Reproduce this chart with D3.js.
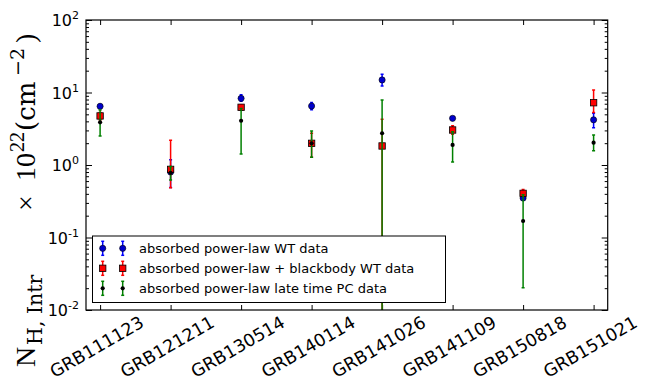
<!DOCTYPE html>
<html><head><meta charset="utf-8">
<script src="https://cdn.jsdelivr.net/npm/d3@7"></script>
<style>body{margin:0;background:#fff}svg{display:block}</style>
</head><body><svg id="c" width="649" height="382"></svg>
<script>
const categories = ["GRB111123","GRB121211","GRB130514","GRB140114","GRB141026","GRB141109","GRB150818","GRB151021"];
// absorbed power-law WT data (value, lower bound, upper bound)
const wtPL    = [6.45, 0.80, 8.3, 6.5, 14.9, 4.4, 0.35, 4.2];
const wtPLLo  = [6.0, 0.49, 7.6, 5.8, 12.3, 4.2, 0.33, 3.27];
const wtPLHi  = [6.9, 1.18, 9.3, 7.3, 17.8, 4.6, 0.37, 5.17];
// absorbed power-law + blackbody WT data
const wtBB    = [4.75, 0.87, 6.25, 1.99, 1.83, 3.04, 0.406, 7.23];
const wtBBLo  = [4.2, 0.486, 5.7, 1.28, 0.001, 2.65, 0.37, 5.3];
const wtBBHi  = [5.3, 2.19, 6.8, 2.74, 4.27, 3.48, 0.46, 10.8];
// absorbed power-law late time PC data
const pcPL    = [3.88, 0.78, 4.08, 1.99, 2.74, 1.89, 0.169, 2.03];
const pcPLLo  = [2.51, 0.62, 1.42, 1.28, 0.001, 1.10, 0.0203, 1.57];
const pcPLHi  = [5.74, 0.95, 6.0, 2.95, 7.88, 2.88, 0.39, 2.59];
const yTicks  = [0.01, 0.1, 1, 10, 100];
const yTickExp = ["-2","-1","0","1","2"];
const legendLabels = ["absorbed power-law WT data","absorbed power-law + blackbody WT data","absorbed power-law late time PC data"];

const svg = d3.select("#c");
const L=86, R=607.7, T=20, B=310;
const x = d3.scaleLinear().domain([-0.2, categories.length-1+0.2]).range([L,R]);
const y = d3.scaleLog().domain([0.01,100]).range([B,T]);

svg.append("defs").append("clipPath").attr("id","clip")
  .append("rect").attr("x",L).attr("y",T).attr("width",R-L).attr("height",B-T);

const minors=[];
for(let e=-2;e<2;e++) for(let k=2;k<=9;k++) minors.push(k*Math.pow(10,e));
svg.append("g").attr("transform",`translate(${L},0)`).call(d3.axisLeft(y).tickValues(yTicks).tickSizeInner(-6).tickSizeOuter(0).tickFormat(""));
svg.append("g").attr("transform",`translate(${R},0)`).call(d3.axisRight(y).tickValues(yTicks).tickSizeInner(-6).tickSizeOuter(0).tickFormat(""));
svg.append("g").attr("transform",`translate(${L},0)`).call(d3.axisLeft(y).tickValues(minors).tickSizeInner(-3).tickSizeOuter(0).tickFormat(""));
svg.append("g").attr("transform",`translate(${R},0)`).call(d3.axisRight(y).tickValues(minors).tickSizeInner(-3).tickSizeOuter(0).tickFormat(""));
const idx = d3.range(categories.length);
svg.append("g").attr("transform",`translate(0,${B})`).call(d3.axisBottom(x).tickValues(idx).tickSizeInner(-5).tickSizeOuter(0).tickFormat(""));
svg.append("g").attr("transform",`translate(0,${T})`).call(d3.axisTop(x).tickValues(idx).tickSizeInner(-5).tickSizeOuter(0).tickFormat(""));
svg.selectAll(".domain").remove();
svg.selectAll(".tick line").attr("stroke","#000").attr("stroke-width",1);

// y tick labels
yTicks.forEach((v,i)=>{
  const t = svg.append("text").attr("x",L-7).attr("y",y(v)+6).attr("text-anchor","end")
    .attr("font-family","DejaVu Sans").attr("font-size",16).attr("fill","#000");
  t.append("tspan").text("10");
  t.append("tspan").attr("dy",-7).attr("font-size",11).text(yTickExp[i]);
});

// x tick labels rotated
categories.forEach((c,i)=>{
  svg.append("text").attr("text-anchor","end")
    .attr("transform",`translate(${x(i)+45},${326}) rotate(-30)`)
    .attr("font-family","DejaVu Sans").attr("font-size",17.5).attr("fill","#000").text(c);
});

// y label, pieces placed along the rotated axis
const ylg = svg.append("g").attr("transform","rotate(-90)").attr("fill","#000");
const SERIF="Liberation Serif, serif", WIDE="DejaVu Serif, serif";
const pieces = [
  {t:"N", y:367, bx:35, fs:28, ff:SERIF},
  {t:"H, Intr", y:345, bx:42, fs:20.5, ff:WIDE},
  {t:"\u00d7", y:211, bx:35, fs:28, ff:SERIF},
  {t:"10", y:181, bx:35, fs:28, ff:SERIF},
  {t:"22", y:152, bx:24, fs:20, ff:SERIF},
  {t:"(cm", y:131, bx:35, fs:26, ff:WIDE},
  {t:"\u22122", y:76, bx:24, fs:19, ff:WIDE},
  {t:")", y:43, bx:35, fs:28, ff:SERIF}
];
pieces.forEach(p=>{
  ylg.append("text").attr("x",-p.y).attr("y",p.bx).attr("font-size",p.fs).attr("font-family",p.ff).text(p.t);
});

const series = [
  {v:wtPL, lo:wtPLLo, hi:wtPLHi, ec:"#0000ff", mk:"circle", fc:"#0000cc"},
  {v:wtBB, lo:wtBBLo, hi:wtBBHi, ec:"#ff0000", mk:"square", fc:"#ff0000"},
  {v:pcPL, lo:pcPLLo, hi:pcPLHi, ec:"#008000", mk:"dot", fc:"#000000"}
];
const plot = svg.append("g").attr("clip-path","url(#clip)");
function errbar(g, cx, y1, y2, col){
  g.append("line").attr("x1",cx).attr("x2",cx).attr("y1",y1).attr("y2",y2).attr("stroke",col).attr("stroke-width",1.5);
  [y1,y2].forEach(yy=>g.append("line").attr("x1",cx-1.5).attr("x2",cx+1.5).attr("y1",yy).attr("y2",yy).attr("stroke",col).attr("stroke-width",1.5));
}
function marker(g, cx, cy, s){
  if(s.mk==="circle") g.append("circle").attr("cx",cx).attr("cy",cy).attr("r",3.1).attr("fill",s.fc).attr("stroke","#000").attr("stroke-width",0.6);
  else if(s.mk==="square") g.append("rect").attr("x",cx-3.2).attr("y",cy-3.2).attr("width",6.4).attr("height",6.4).attr("fill",s.fc).attr("stroke","#000").attr("stroke-width",0.8);
  else g.append("circle").attr("cx",cx).attr("cy",cy).attr("r",2.1).attr("fill","#000");
}
series.forEach(s=>{
  idx.forEach(i=>errbar(plot, x(i), y(s.hi[i]), y(s.lo[i]), s.ec));
  idx.forEach(i=>marker(plot, x(i), y(s.v[i]), s));
});
svg.append("rect").attr("x",L).attr("y",T).attr("width",R-L).attr("height",B-T).attr("fill","none").attr("stroke","#000").attr("stroke-width",1.2);

// legend
const lg = svg.append("g");
lg.append("rect").attr("x",92.5).attr("y",236).attr("width",353).attr("height",66.5).attr("fill","#fff").attr("stroke","#000").attr("stroke-width",1);
series.forEach((s,k)=>{
  const yy = 248.3 + k*20;
  [102.7,122.7].forEach(xx=>{ errbar(lg, xx, yy-7, yy+7, s.ec); marker(lg, xx, yy, s); });
  lg.append("text").attr("x",139).attr("y",yy+4.5).attr("font-family","DejaVu Sans").attr("font-size",13).attr("fill","#000").text(legendLabels[k]);
});
</script></body></html>
